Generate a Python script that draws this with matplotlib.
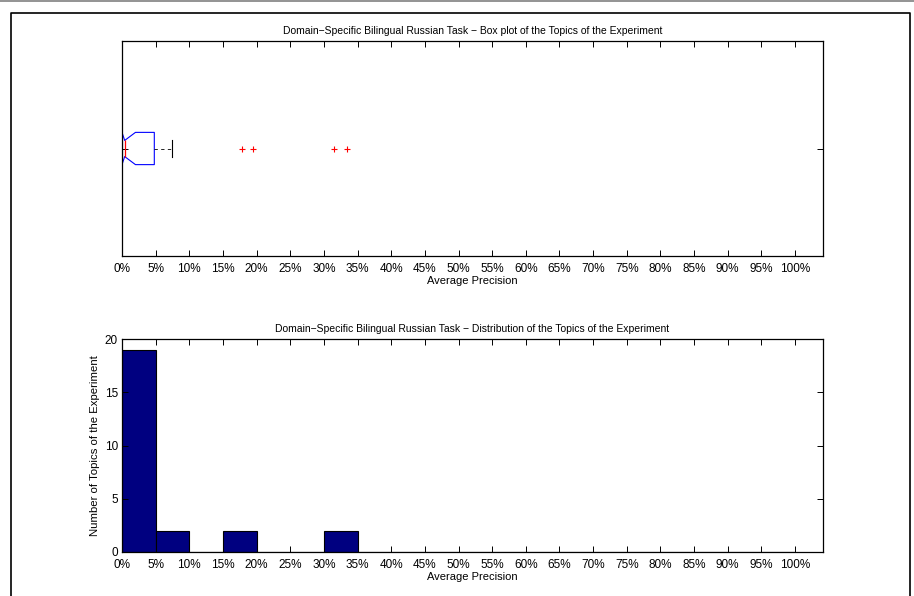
import matplotlib
matplotlib.use("Agg")
import matplotlib.pyplot as plt
from matplotlib.lines import Line2D
from matplotlib.ticker import FuncFormatter

# ---------------------------------------------------------------------------
# Data
# ---------------------------------------------------------------------------
# box plot statistics (average precision, fraction)
box_q1 = 0.0
box_median = 0.004
box_q3 = 0.048
box_ci_low = 0.0
box_ci_high = 0.020
whisker_low = 0.0
whisker_high = 0.075
outliers = [0.179, 0.194, 0.315, 0.334]

# histogram: bin left edges and number of topics per 5% bin
bin_edges = [i * 0.05 for i in range(20)]
bin_counts = [19, 2, 0, 2, 0, 0, 2, 0, 0, 0, 0, 0, 0, 0, 0, 0, 0, 0, 0, 0]

x_ticks = [i * 0.05 for i in range(21)]
y_ticks_hist = [0, 5, 10, 15, 20]

title_box = "Domain\u2212Specific Bilingual Russian Task \u2212 Box plot of the Topics of the Experiment"
title_hist = "Domain\u2212Specific Bilingual Russian Task \u2212 Distribution of the Topics of the Experiment"
x_label = "Average Precision"
y_label_hist = "Number of Topics of the Experiment"

plt.rcParams["font.family"] = ["Liberation Sans", "DejaVu Sans"]
plt.rcParams["font.size"] = 7.5

W, H = 914, 596
fig = plt.figure(figsize=(W / 100, H / 100), dpi=100)


def _fig_rect(left, top, right, bottom):
    """Convert pixel box to figure-fraction rect."""
    return [left / W, 1 - bottom / H, (right - left) / W, (bottom - top) / H]


def _style_axes(ax):
    for sp in ax.spines.values():
        sp.set_linewidth(0.9)
    ax.tick_params(direction="in", length=4.5, width=0.7, top=True, right=True,
                   labelsize=8.5)
    ax.tick_params(axis="x", pad=5)
    ax.tick_params(axis="y", pad=3)
    ax.set_xlim(0, 1.0416)
    ax.set_xticks(x_ticks)
    ax.xaxis.set_major_formatter(FuncFormatter(lambda v, _: f"{round(v * 100)}%"))
    ax.set_xlabel(x_label, fontsize=8, labelpad=0.5)


# page frame
fig.add_artist(Line2D([0, 1], [1 - 1 / H, 1 - 1 / H], color="#808080", lw=1.2))
fig.add_artist(Line2D([11 / W, 11 / W, 909.5 / W, 909.5 / W],
                      [0, 1 - 13 / H, 1 - 13 / H, 0], color="black", lw=1.2))

# ---------------------------------------------------------------------------
# Box plot
# ---------------------------------------------------------------------------
ax1 = fig.add_axes(_fig_rect(122, 41, 823, 256))
stats = [{
    "med": box_median, "q1": box_q1, "q3": box_q3,
    "cilo": box_ci_low, "cihi": box_ci_high,
    "whislo": whisker_low, "whishi": whisker_high,
    "fliers": outliers,
}]
ax1.bxp(stats, positions=[1], widths=0.15, orientation="horizontal",
        shownotches=True,
        boxprops=dict(color="blue", linewidth=0.8),
        medianprops=dict(color="red", linewidth=0.9),
        whiskerprops=dict(color="black", linewidth=0.6, linestyle=(0, (4, 4))),
        capprops=dict(color="black", linewidth=0.8),
        flierprops=dict(marker="+", markeredgecolor="red", markersize=5,
                        markeredgewidth=0.8, linestyle="none"))
ax1.set_ylim(0.5, 1.5)
ax1.set_yticks([1])
ax1.set_yticklabels([""])
_style_axes(ax1)
ax1.set_title(title_box, fontsize=7.5, pad=5)

# ---------------------------------------------------------------------------
# Histogram
# ---------------------------------------------------------------------------
ax2 = fig.add_axes(_fig_rect(122, 339, 823, 552))
ax2.bar(bin_edges, bin_counts, width=0.05, align="edge",
        color=(0, 0, 0.5), edgecolor="black", linewidth=0.8)
ax2.set_ylim(0, 20)
ax2.set_yticks(y_ticks_hist)
_style_axes(ax2)
ax2.set_ylabel(y_label_hist, fontsize=8.2, labelpad=3)
ax2.set_title(title_hist, fontsize=7.5, pad=5)

fig.savefig("out.png", dpi=100)
